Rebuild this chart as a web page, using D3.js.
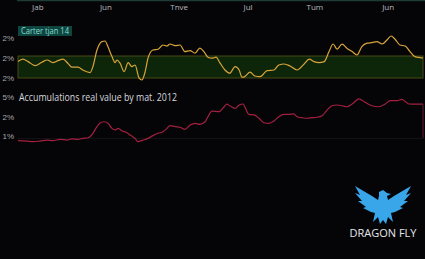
<!DOCTYPE html>
<html>
<head>
<meta charset="utf-8">
<script src="https://cdn.jsdelivr.net/npm/d3@7"></script>
<style>
body { margin: 0; background: #050508; overflow: hidden; }
svg { display: block; font-family: "Open Sans", sans-serif; }
</style>
</head>
<body>
<div class="chart-container"></div>
<script>
var W = 425, H = 259;

// month labels along the top axis (position in time units 0..100)
var monthNames = ["Jab", "Jun", "Tnve", "Jul", "Tum", "Jun"];
var monthPos = [4.9, 21.7, 39.8, 56.8, 73.3, 91.4];

// panel 1 - "Carter tjan 14"
var carterT = [0, 1.2, 2.5, 4.2, 5.9, 7.2, 8.6, 9.9, 11.1, 12.3, 13.3, 14.8, 16.0, 17.8, 18.5, 19.5, 20.7, 21.5, 22.2, 23.2,
  24.0, 24.4, 25.2, 26.2, 27.2, 28.1, 28.9, 29.9, 30.6, 31.4, 32.1, 33.3, 34.6, 35.8, 36.8, 37.5, 38.8, 40.0, 41.2, 42.5,
  43.7, 44.9, 45.9, 46.9, 47.9, 48.9, 49.9, 51.1, 52.3, 53.6, 54.6, 55.3, 56.0, 57.3, 58.5, 59.8, 61.5, 63.2, 64.4, 65.7,
  67.2, 68.9, 70.6, 71.9, 73.1, 74.3, 75.6, 76.8, 77.8, 78.8, 80.0, 81.2, 82.5, 83.7, 84.9, 86.2, 87.4, 88.6, 89.9, 91.1,
  92.1, 93.1, 94.3, 95.6, 96.8, 98.0, 99.3, 100];
var carterV = [1.82, 1.94, 1.82, 1.62, 1.79, 1.90, 1.77, 1.87, 1.94, 1.74, 1.54, 1.54, 1.40, 1.27, 1.57, 2.40, 2.82, 2.85, 2.57, 2.07,
  1.77, 1.90, 1.74, 1.32, 1.77, 1.57, 1.65, 0.99, 0.90, 1.32, 1.99, 2.40, 2.44, 2.65, 2.60, 2.70, 2.62, 2.65, 2.32, 2.37,
  2.24, 2.49, 2.32, 2.04, 1.99, 2.04, 1.74, 1.40, 1.24, 1.57, 1.40, 1.04, 1.07, 1.29, 1.10, 1.07, 1.37, 1.40, 1.65, 1.70,
  1.60, 1.40, 1.69, 1.94, 1.82, 1.77, 1.82, 2.32, 2.70, 2.44, 2.69, 2.49, 2.32, 2.15, 2.57, 2.74, 2.77, 2.82, 2.70, 2.90,
  3.10, 2.94, 2.65, 2.60, 2.32, 2.07, 2.02, 2.00];
var carterBand = [1, 2.1];
var carterTicks = [1, 2, 3];
var carterTickLabels = ["2%", "2%", "2%"];

// panel 2 - accumulations
var accumT = [0, 2.2, 3.7, 5.4, 7.2, 8.6, 10.4, 12.1, 13.3, 14.8, 16.0, 17.3, 18.5, 19.5, 20.2, 21.2, 22.2, 23.2, 24.0, 24.7,
  25.7, 26.7, 27.9, 28.9, 29.6, 30.9, 32.1, 33.3, 34.6, 35.8, 36.8, 37.5, 38.8, 40.0, 41.2, 42.5, 43.7, 44.9, 46.2, 46.9,
  47.9, 49.6, 50.9, 51.6, 52.3, 53.6, 54.6, 55.6, 56.0, 57.0, 58.3, 59.5, 60.7, 62.0, 63.2, 64.4, 65.7, 66.9, 68.1, 68.9,
  70.1, 71.4, 72.6, 73.8, 75.1, 76.3, 77.5, 78.8, 80.0, 81.2, 82.5, 84.2, 85.7, 87.4, 89.1, 90.6, 91.9, 93.6, 94.8, 96.5,
  98.0, 100];
var accumV = [0.76, 0.74, 0.71, 0.74, 0.79, 0.76, 0.83, 0.79, 0.85, 0.83, 0.88, 0.91, 1.14, 1.48, 1.65, 1.73, 1.65, 1.39, 1.31, 1.39,
  1.26, 1.19, 1.02, 0.88, 0.71, 0.79, 0.88, 1.02, 1.14, 1.22, 1.39, 1.53, 1.48, 1.45, 1.34, 1.56, 1.65, 1.60, 1.73, 1.99,
  2.28, 2.25, 2.50, 2.63, 2.55, 2.42, 2.59, 2.64, 2.50, 2.11, 2.08, 1.91, 1.68, 1.65, 1.77, 1.99, 2.11, 2.11, 2.13, 1.99,
  1.94, 1.91, 1.94, 1.96, 2.04, 2.33, 2.55, 2.59, 2.55, 2.50, 2.64, 2.90, 2.73, 2.55, 2.50, 2.63, 2.81, 2.81, 2.88, 2.64,
  2.63, 2.63];
var accumEndDrop = 0.9;
var accumTicks = [1, 2, 3];
var accumTickLabels = ["1%", "2%", "5%"];

var svg = d3.select(".chart-container").append("svg")
    .attr("width", W)
    .attr("height", H);

svg.append("rect").attr("width", W).attr("height", H).attr("fill", "#050508");

var x = d3.scaleLinear().domain([0, 100]).range([18, 423]);

// top axis line + month labels
svg.append("line")
    .attr("x1", 17).attr("x2", W).attr("y1", 0.5).attr("y2", 0.5)
    .attr("stroke", "#1f3b35").attr("stroke-width", 1.5);

svg.selectAll(".month")
    .data(monthNames)
    .enter().append("text")
    .attr("class", "month")
    .attr("x", function (d, i) { return x(monthPos[i]); })
    .attr("y", 10)
    .attr("text-anchor", "middle")
    .attr("fill", "#b8b8bc")
    .style("font-size", "8px")
    .text(function (d) { return d; });

// ---- panel 1
var y1 = d3.scaleLinear().domain([1, 3]).range([78, 38]);

svg.append("rect")
    .attr("x", x(0))
    .attr("width", x(100) - x(0))
    .attr("y", y1(carterBand[1]))
    .attr("height", y1(carterBand[0]) - y1(carterBand[1]))
    .attr("fill", "#0d260a")
    .attr("stroke", "#4b4a14")
    .attr("stroke-width", 1);

var yAxis1 = svg.append("g")
    .attr("transform", "translate(15,0)")
    .call(d3.axisLeft(y1).tickValues(carterTicks).tickSize(0)
        .tickFormat(function (d, i) { return carterTickLabels[i]; }));
yAxis1.select(".domain").remove();
yAxis1.selectAll("text").attr("fill", "#a8a8ac").style("font-size", "8px").attr("x", -1);

svg.append("path")
    .datum(carterT)
    .attr("fill", "none")
    .attr("stroke", "#d9a43a")
    .attr("stroke-width", 1.2)
    .attr("stroke-linejoin", "round")
    .attr("d", d3.line()
        .x(function (d) { return x(d); })
        .y(function (d, i) { return y1(carterV[i]); })
        .curve(d3.curveMonotoneX));

// label box
var lab = svg.append("g").attr("transform", "translate(18,26)");
lab.append("rect").attr("width", 54).attr("height", 10).attr("fill", "#0e463f");
lab.append("text")
    .attr("x", 3).attr("y", 8)
    .attr("fill", "#86ddd2")
    .style("font-size", "8.5px")
    .attr("textLength", 48)
    .attr("lengthAdjust", "spacingAndGlyphs")
    .text("Carter tjan 14");

// ---- panel 2
var y2 = d3.scaleLinear().domain([1, 3]).range([136, 97]);

svg.append("line")
    .attr("x1", x(0)).attr("x2", x(100))
    .attr("y1", 138.5).attr("y2", 138.5)
    .attr("stroke", "#111218");

var yAxis2 = svg.append("g")
    .attr("transform", "translate(15,0)")
    .call(d3.axisLeft(y2).tickValues(accumTicks).tickSize(0)
        .tickFormat(function (d, i) { return accumTickLabels[i]; }));
yAxis2.select(".domain").remove();
yAxis2.selectAll("text").attr("fill", "#a8a8ac").style("font-size", "8px").attr("x", -1);

svg.append("text")
    .attr("x", 19).attr("y", 100.5)
    .attr("fill", "#d8d8dc")
    .style("font-size", "10px")
    .attr("textLength", 158)
    .attr("lengthAdjust", "spacingAndGlyphs")
    .text("Accumulations real value by mat. 2012");

svg.append("path")
    .datum(accumT)
    .attr("fill", "none")
    .attr("stroke", "#a3203f")
    .attr("stroke-width", 1.2)
    .attr("stroke-linejoin", "round")
    .attr("d", d3.line()
        .x(function (d) { return x(d); })
        .y(function (d, i) { return y2(accumV[i]); })
        .curve(d3.curveMonotoneX));

// faint drop at the right edge
svg.append("line")
    .attr("x1", x(100)).attr("x2", x(100))
    .attr("y1", y2(accumV[accumV.length - 1])).attr("y2", y2(accumEndDrop))
    .attr("stroke", "#6a1a30")
    .attr("stroke-width", 1);

// ---- logo
var logo = svg.append("g").attr("transform", "translate(383,201)");
logo.append("path")
    .attr("fill", "#3aa6ea")
    .attr("d", "M0,-11 L4,-8 L8,-7 L4,-5 L5,-1 L11,-5 L28,-15 L23,-6 L28,-8 L21,0 L25,0 L17,6 L20,7 L12,11 L8,12 " +
        "L10,21 L5,16 L3,23 L0,19 L-3,23 L-5,16 L-10,21 L-8,12 L-12,11 L-20,7 L-17,6 L-25,0 L-21,0 L-28,-8 L-23,-6 " +
        "L-28,-15 L-11,-5 L-5,-1 L-4,-5 L-4,-9 Z");
svg.append("text")
    .attr("x", 383).attr("y", 237)
    .attr("text-anchor", "middle")
    .attr("fill", "#e6e6ea")
    .style("font-size", "11.5px")
    .attr("textLength", 67)
    .attr("lengthAdjust", "spacingAndGlyphs")
    .text("DRAGON FLY");
</script>
</body>
</html>
